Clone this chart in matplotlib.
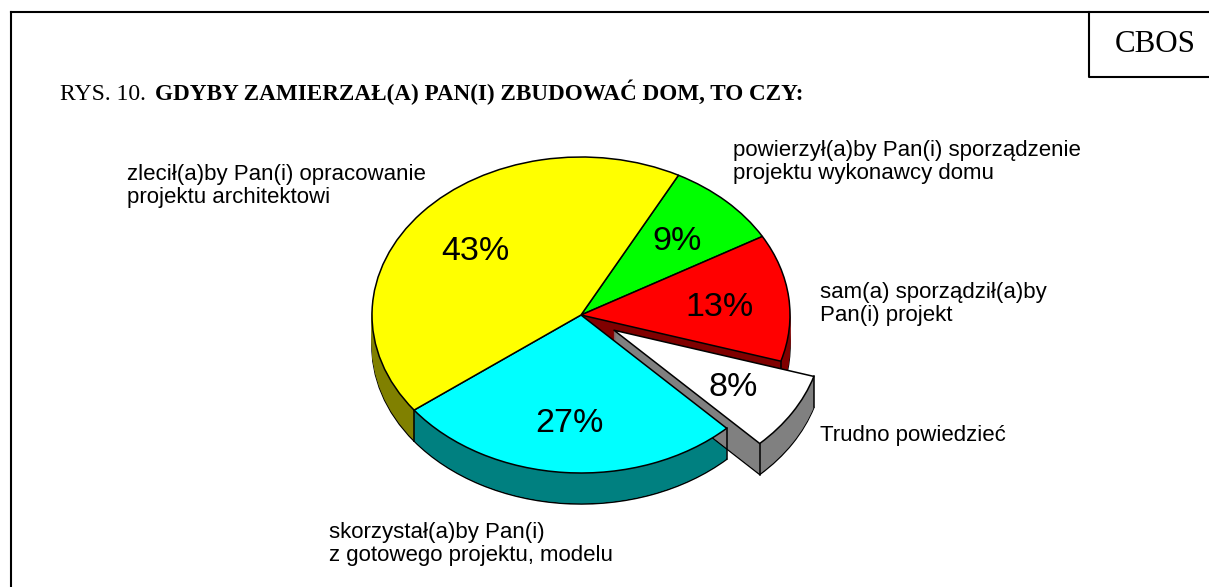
import numpy as np
import matplotlib
matplotlib.use('Agg')
import matplotlib.pyplot as plt

# wartosci z wykresu, zgodnie z ruchem wskazowek od gory
wartosci = [9, 13, 8, 27, 43]
etykiety_proc = ['9%', '13%', '8%', '27%', '43%']
kolory = ['#00ff00', '#ff0000', '#ffffff', '#00ffff', '#ffff00']
kolory_boku = ['#008000', '#800000', '#808080', '#008080', '#808000']
wysuniecie = [0, 0, 0.185, 0, 0]

etykiety = ['powierzył(a)by Pan(i) sporządzenie\nprojektu wykonawcy domu',
            'sam(a) sporządził(a)by\nPan(i) projekt',
            'Trudno powiedzieć',
            'skorzystał(a)by Pan(i)\nz gotowego projektu, modelu',
            'zlecił(a)by Pan(i) opracowanie\nprojektu architektowi']
etykiety_xy = [(733, 162), (820, 304), (820, 436), (329, 544), (127, 186)]
proc_xy = [(677, 241), (720, 308), (733, 388), (569, 423), (475, 252)]

W, H = 1209, 587
cx, cy, rx, ry = 581, 315, 209, 158
glebokosc = 31
start = 62.2

fig = plt.figure(figsize=(W / 100, H / 100), dpi=100)

# os kolowa: jednostka kola = rx na ry pikseli
ax = fig.add_axes([0, 0, 1, 1])


def rysuj(dy, twarz, krawedz, lw, z):
    wedges, _ = ax.pie(wartosci, explode=wysuniecie, startangle=start, counterclock=False,
                       center=(0, -dy / ry), radius=1)
    for w, f, zz in zip(wedges, twarz, z):
        w.set_facecolor(f)
        w.set_edgecolor(krawedz if krawedz else f)
        w.set_linewidth(lw)
        w.set_zorder(zz)
        w.set_joinstyle('round')


z_boku = [2, 2, 3, 2, 2]
z_gory = [5, 5, 4, 5, 5]

# dolny obrys, potem warstwy boku, na koncu wierzch
rysuj(glebokosc, kolory_boku, 'black', 1.1, z_boku)
for d in range(glebokosc - 1, 0, -1):
    rysuj(d, kolory_boku, None, 0.3, z_boku)
rysuj(0, kolory, 'black', 1.1, z_gory)

# pionowe krawedzie boku
granice = start - np.cumsum([0] + wartosci) * 3.6
srodki = np.radians((granice[:-1] + granice[1:]) / 2)


def pion(kat, i, z):
    a = np.radians(kat)
    e = wysuniecie[i]
    x = e * np.cos(srodki[i]) + np.cos(a)
    y = e * np.sin(srodki[i]) + np.sin(a)
    ax.plot([x, x], [y, y - glebokosc / ry], color='black', lw=1.1, zorder=z)


pion(granice[2], 1, 2.5)
pion(granice[2], 2, 3.5)
pion(granice[3], 2, 3.5)
pion(granice[3], 3, 3.5)
pion(granice[4], 3, 3.5)

ax.set_aspect('auto')
ax.set_xlim(-cx / rx, (W - cx) / rx)
ax.set_ylim((cy - H) / ry, cy / ry)
ax.axis('off')

# tekst i ramki w pikselach obrazka
nak = fig.add_axes([0, 0, 1, 1], zorder=10)
nak.set_xlim(0, W)
nak.set_ylim(H, 0)
nak.axis('off')
nak.patch.set_alpha(0)

nak.plot([11, 11], [H + 5, 12], color='black', lw=1.5, clip_on=False)
nak.plot([11, W + 5], [12, 12], color='black', lw=1.5, clip_on=False)
nak.plot([1089, 1089, W + 5], [12, 77, 77], color='black', lw=1.5, clip_on=False)

nak.text(1155, 45, 'CBOS', family='Liberation Serif', fontsize=22.3, ha='center', va='center')
nak.text(60, 100, 'RYS. 10.', family='Liberation Serif', fontsize=17, va='baseline')
nak.text(155, 100, 'GDYBY ZAMIERZAŁ(A) PAN(I) ZBUDOWAĆ DOM, TO CZY:', family='Liberation Serif',
         fontweight='bold', fontsize=16.7, va='baseline')

for (x, y), t in zip(etykiety_xy, etykiety):
    nak.text(x, y, t, family='Liberation Sans', fontsize=16.05, va='center', ha='left', linespacing=1.155)
for (x, y), t in zip(proc_xy, etykiety_proc):
    nak.text(x, y, t, family='Liberation Sans', fontsize=24.5, va='center', ha='center')

fig.savefig('out.png', dpi=100)
